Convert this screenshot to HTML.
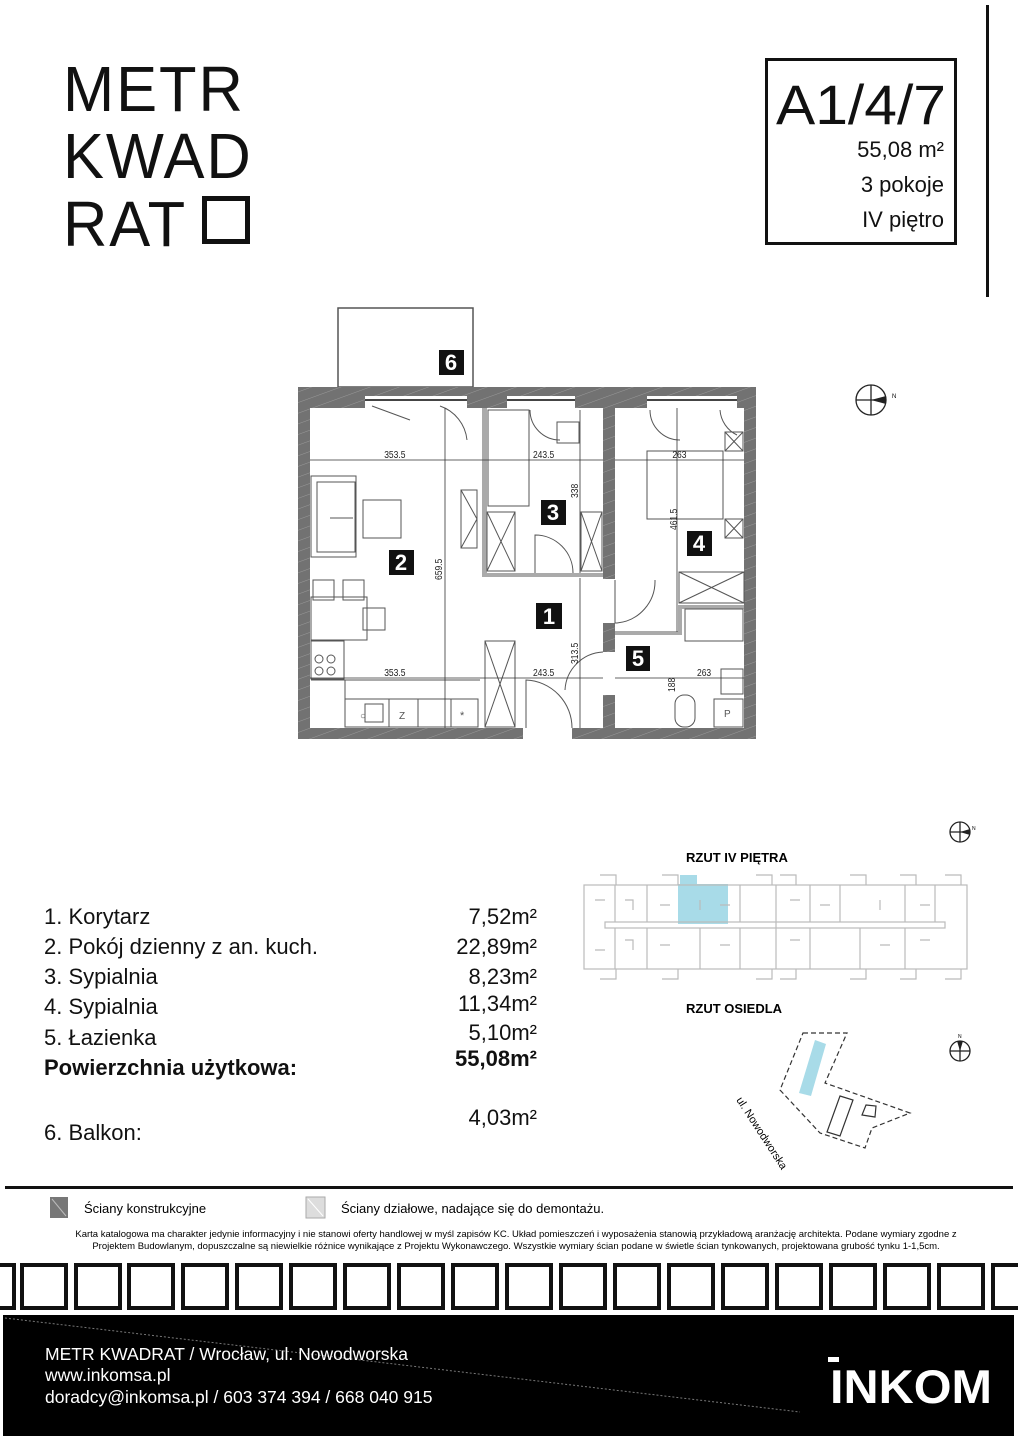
<!DOCTYPE html>
<html><head><meta charset="utf-8"><style>
body{margin:0;width:1018px;height:1440px;background:#fff;position:relative;overflow:hidden;font-family:"Liberation Sans",sans-serif;color:#111}
.a{position:absolute;white-space:nowrap}
.logo{font-size:64px;letter-spacing:2px;line-height:1;font-weight:normal;transform:scaleX(0.96);transform-origin:left}
.li{font-size:22px}
</style></head><body>
<div class="a logo" style="left:63px;top:57px">METR</div>
<div class="a logo" style="left:63px;top:124px">KWAD</div>
<div class="a logo" style="left:63px;top:192px">RAT</div>
<div class="a" style="left:202px;top:196px;width:38px;height:38px;border:5px solid #111"></div>

<div class="a" style="left:765px;top:58px;width:186px;height:181px;border:3px solid #111"></div>
<div class="a" style="left:986px;top:5px;width:3px;height:292px;background:#111"></div>
<div class="a" style="left:776px;top:72px;font-size:56px;transform:scaleX(1.05);transform-origin:left">A1/4/7</div>
<div class="a" style="right:74px;top:137px;font-size:22px">55,08 m²</div>
<div class="a" style="right:74px;top:172px;font-size:22px">3 pokoje</div>
<div class="a" style="right:74px;top:207px;font-size:22px">IV piętro</div>

<svg class="a" style="left:0;top:0" width="1018" height="1440" font-family="Liberation Sans, sans-serif">
<defs><pattern id="h" width="10" height="10" patternUnits="userSpaceOnUse" patternTransform="rotate(70)"><rect width="10" height="10" fill="#727272"/><line x1="0" y1="0" x2="0" y2="10" stroke="#999" stroke-width="1"/></pattern></defs>
<rect x="338" y="308" width="135" height="79" fill="#fff" stroke="#555" stroke-width="1.5"/>
<rect x="298" y="387" width="458" height="352" fill="url(#h)"/>
<rect x="310" y="408" width="293" height="320" fill="#fff"/>
<rect x="310" y="408" width="35" height="291" fill="#fff"/>
<rect x="615" y="408" width="129" height="320" fill="#fff"/>
<rect x="603" y="579" width="12" height="44" fill="#fff"/>
<rect x="603" y="652" width="12" height="43" fill="#fff"/>
<rect x="523" y="728" width="49" height="11" fill="#fff"/>
<rect x="365" y="396" width="102" height="12" fill="#fff"/><line x1="365" y1="400" x2="467" y2="400" stroke="#444" stroke-width="2"/>
<rect x="507" y="396" width="68" height="12" fill="#fff"/><line x1="507" y1="400" x2="575" y2="400" stroke="#444" stroke-width="2"/>
<rect x="647" y="396" width="90" height="12" fill="#fff"/><line x1="647" y1="400" x2="737" y2="400" stroke="#444" stroke-width="2"/>
<g fill="#aaa"><rect x="482" y="408" width="5" height="168"/><rect x="482" y="573" width="121" height="4"/>
<rect x="615" y="631" width="64" height="4"/><rect x="678" y="605" width="4" height="30"/><rect x="678" y="605" width="66" height="4"/></g>
<g fill="none" stroke="#555" stroke-width="1">
<rect x="311" y="476" width="45" height="81"/><rect x="317" y="482" width="38" height="70"/><line x1="330" y1="518" x2="353" y2="518"/>
<rect x="363" y="500" width="38" height="38"/>
<rect x="311" y="597" width="56" height="43"/><rect x="313" y="580" width="21" height="20"/><rect x="343" y="580" width="21" height="20"/><rect x="363" y="608" width="22" height="22"/>
<rect x="311" y="641" width="33" height="38"/><circle cx="319" cy="659" r="4"/><circle cx="331" cy="659" r="4"/><circle cx="319" cy="671" r="4"/><circle cx="331" cy="671" r="4"/>
<line x1="311" y1="680" x2="480" y2="680"/><line x1="345" y1="680" x2="345" y2="699"/>
<rect x="345" y="699" width="133" height="28"/><line x1="389" y1="699" x2="389" y2="727"/><line x1="418" y1="699" x2="418" y2="727"/><line x1="451" y1="699" x2="451" y2="727"/>
<rect x="365" y="704" width="18" height="18"/>
<rect x="461" y="490" width="16" height="58"/><line x1="461" y1="490" x2="477" y2="519"/><line x1="461" y1="548" x2="477" y2="519"/>
<rect x="488" y="410" width="41" height="96"/><rect x="557" y="422" width="22" height="21"/>
<rect x="487" y="512" width="28" height="59"/><line x1="487" y1="512" x2="515" y2="571"/><line x1="515" y1="512" x2="487" y2="571"/>
<rect x="581" y="512" width="21" height="59"/><line x1="581" y1="512" x2="602" y2="571"/><line x1="602" y1="512" x2="581" y2="571"/>
<path d="M535 573 L535 535 A38 38 0 0 1 573 573"/>
<rect x="485" y="641" width="30" height="86"/><line x1="485" y1="641" x2="515" y2="727"/><line x1="515" y1="641" x2="485" y2="727"/>
<path d="M526 728 L526 680 A48 48 0 0 1 572 728"/>
<path d="M615 580 L615 623 L617 623 A42 42 0 0 0 655 580"/>
<path d="M565 690 A40 40 0 0 1 603 652"/>
<rect x="647" y="451" width="76" height="68"/><rect x="725" y="432" width="18" height="19"/><line x1="725" y1="432" x2="743" y2="451"/><line x1="743" y1="432" x2="725" y2="451"/>
<rect x="725" y="519" width="18" height="19"/><line x1="725" y1="519" x2="743" y2="538"/><line x1="743" y1="519" x2="725" y2="538"/>
<rect x="679" y="572" width="65" height="31"/><line x1="679" y1="572" x2="744" y2="603"/><line x1="744" y1="572" x2="679" y2="603"/>
<rect x="685" y="609" width="58" height="32"/><rect x="721" y="669" width="22" height="25"/>
<rect x="675" y="695" width="20" height="32" rx="9"/><rect x="714" y="699" width="29" height="28"/>
<path d="M372 406 L410 420 M440 406 A40 40 0 0 1 467 440 M650 410 A30 30 0 0 0 680 440 M720 410 A30 30 0 0 0 737 435 M530 410 A30 30 0 0 0 560 440"/>
</g>
<text x="360" y="719" font-size="10" fill="#555">○</text><text x="399" y="719" font-size="10" fill="#555">Z</text><text x="460" y="719" font-size="11" fill="#555">*</text><text x="724" y="717" font-size="10" fill="#555">P</text>
<g stroke="#333" stroke-width="0.8"><line x1="310" y1="460" x2="603" y2="460"/><line x1="615" y1="460" x2="744" y2="460"/><line x1="310" y1="678" x2="603" y2="678"/><line x1="615" y1="678" x2="744" y2="678"/>
<line x1="445" y1="408" x2="445" y2="728"/><line x1="580" y1="410" x2="580" y2="573"/><line x1="677" y1="408" x2="677" y2="632"/><line x1="580" y1="578" x2="580" y2="728"/></g>
<g font-size="10" fill="#222" transform="scale(0.85,1)"><text x="452" y="458">353.5</text><text x="627" y="458">243.5</text><text x="791" y="458">263</text><text x="452" y="676">353.5</text><text x="627" y="676">243.5</text><text x="820" y="676">263</text></g>
<g font-size="10" fill="#222"><text transform="translate(442,580) rotate(-90) scale(0.85,1)">659.5</text><text transform="translate(578,498) rotate(-90) scale(0.85,1)">338</text><text transform="translate(677,530) rotate(-90) scale(0.85,1)">461.5</text><text transform="translate(578,664) rotate(-90) scale(0.85,1)">313.5</text><text transform="translate(675,692) rotate(-90) scale(0.85,1)">188</text></g>
<g font-size="22" font-weight="bold" fill="#fff" text-anchor="middle">
<rect x="439" y="350" width="25" height="25" fill="#111"/><text x="451" y="370">6</text>
<rect x="389" y="550" width="25" height="25" fill="#111"/><text x="401" y="570">2</text>
<rect x="541" y="500" width="25" height="25" fill="#111"/><text x="553" y="520">3</text>
<rect x="536" y="603" width="26" height="26" fill="#111"/><text x="549" y="624">1</text>
<rect x="687" y="531" width="25" height="25" fill="#111"/><text x="699" y="551">4</text>
<rect x="626" y="646" width="24" height="25" fill="#111"/><text x="638" y="666">5</text></g>
<g fill="none" stroke="#222" stroke-width="1.3"><circle cx="871" cy="400" r="15"/><line x1="856" y1="400" x2="886" y2="400"/><line x1="871" y1="385" x2="871" y2="415"/>
<circle cx="960" cy="832" r="10"/><line x1="950" y1="832" x2="970" y2="832"/><line x1="960" y1="822" x2="960" y2="842"/>
<circle cx="960" cy="1051" r="10"/><line x1="950" y1="1051" x2="970" y2="1051"/><line x1="960" y1="1041" x2="960" y2="1061"/></g>
<path d="M871 400 L886 396 L886 404Z" fill="#222"/><path d="M960 832 L970 829 L970 835Z" fill="#222"/><path d="M960 1051 L957 1041 L963 1041Z" fill="#222"/>
<text x="892" y="398" font-size="6">N</text><text x="972" y="830" font-size="5">N</text><text x="958" y="1038" font-size="5">N</text>
<text x="686" y="862" font-size="13" font-weight="bold">RZUT IV PIĘTRA</text>
<text x="686" y="1013" font-size="13" font-weight="bold">RZUT OSIEDLA</text>
<rect x="680" y="875" width="17" height="12" fill="#a8dbe8"/><rect x="678" y="884" width="50" height="40" fill="#a8dbe8"/>
<g fill="none" stroke="#bbb" stroke-width="1.2">
<rect x="584" y="885" width="383" height="84"/><line x1="776" y1="885" x2="776" y2="969"/>
<rect x="605" y="922" width="340" height="6"/>
<path d="M600 875h16v10M662 875h16v10M756 875h16v10M780 875h16v10M850 875h16v10M900 875h16v10M945 875h16v10M600 979h16v-10M662 979h16v-10M756 979h16v-10M780 979h16v-10M850 979h16v-10M900 979h16v-10M945 979h16v-10"/>
<path d="M615 885v37M647 885v37M740 885v37M810 885v37M840 885v37M905 885v37M935 885v37M615 928v41M647 928v41M700 928v41M740 928v41M810 928v41M860 928v41M905 928v41"/>
<path d="M595 900h10M595 950h10M625 900h8v10M660 905h10M700 900v10M720 905h10M790 900h10M820 905h10M880 900v10M920 905h10M625 940h8v10M660 945h10M720 945h10M790 940h10M880 945h10M920 940h10"/>
</g>
<g fill="none" stroke="#333" stroke-width="1.2"><path d="M803 1033 L847 1033 L825 1083 L910 1113 L872 1128 L865 1148 L820 1133 L780 1090Z" stroke-dasharray="5 3"/>
<path d="M840 1096 L853 1100 L840 1136 L827 1132Z"/><path d="M866 1105 L876 1106 L875 1117 L862 1115Z"/></g>
<path d="M815 1040 L826 1044 L811 1096 L799 1093Z" fill="#a8dbe8"/>
<text transform="translate(736,1100) rotate(57)" font-size="11">ul. Nowodworska</text>
<rect x="5" y="1186" width="1008" height="3" fill="#111"/>
<rect x="50" y="1197" width="18" height="21" fill="#777"/><line x1="52" y1="1199" x2="66" y2="1216" stroke="#bbb"/>
<rect x="306" y="1197" width="19" height="21" fill="#ddd" stroke="#aaa"/><line x1="308" y1="1199" x2="323" y2="1216" stroke="#fff"/>
<text x="84" y="1213" font-size="13">Ściany konstrukcyjne</text>
<text x="341" y="1213" font-size="13">Ściany działowe, nadające się do demontażu.</text>
<text x="516" y="1237" font-size="9.5" text-anchor="middle">Karta katalogowa ma charakter jedynie informacyjny i nie stanowi oferty handlowej w myśl zapisów KC. Układ pomieszczeń i wyposażenia stanowią przykładową aranżację architekta. Podane wymiary zgodne z</text>
<text x="516" y="1249" font-size="9.5" text-anchor="middle">Projektem Budowlanym, dopuszczalne są niewielkie różnice wynikające z Projektu Wykonawczego. Wszystkie wymiary ścian podane w świetle ścian tynkowanych, projektowana grubość tynku 1-1,5cm.</text>
<g fill="none" stroke="#111" stroke-width="4">
<rect x="-34" y="1265" width="48" height="43"/><rect x="22" y="1265" width="44" height="43"/><rect x="76" y="1265" width="44" height="43"/><rect x="129" y="1265" width="44" height="43"/><rect x="183" y="1265" width="44" height="43"/><rect x="237" y="1265" width="44" height="43"/><rect x="291" y="1265" width="44" height="43"/><rect x="345" y="1265" width="44" height="43"/><rect x="399" y="1265" width="44" height="43"/><rect x="453" y="1265" width="44" height="43"/><rect x="507" y="1265" width="44" height="43"/><rect x="561" y="1265" width="44" height="43"/><rect x="615" y="1265" width="44" height="43"/><rect x="669" y="1265" width="44" height="43"/><rect x="723" y="1265" width="44" height="43"/><rect x="777" y="1265" width="44" height="43"/><rect x="831" y="1265" width="44" height="43"/><rect x="885" y="1265" width="44" height="43"/><rect x="939" y="1265" width="44" height="43"/><rect x="993" y="1265" width="44" height="43"/></g>
<rect x="3" y="1315" width="1011" height="121" fill="#000"/>
<line x1="5" y1="1318" x2="800" y2="1412" stroke="#777" stroke-width="1" stroke-dasharray="2 2"/>
<text x="45" y="1360" font-size="17.5" fill="#fff">METR KWADRAT / Wrocław, ul. Nowodworska</text>
<text x="45" y="1381" font-size="17.5" fill="#fff">www.inkomsa.pl</text>
<text x="45" y="1403" font-size="17.5" fill="#fff">doradcy@inkomsa.pl / 603 374 394 / 668 040 915</text>
<text x="830" y="1403" font-size="47" font-weight="bold" fill="#fff" textLength="162" lengthAdjust="spacingAndGlyphs">INKOM</text>
<rect x="828" y="1357" width="11" height="5" fill="#fff"/>
</svg>

<div class="a li" style="left:44px;top:904px">1. Korytarz</div><div class="a li" style="right:481px;top:904px">7,52m²</div>
<div class="a li" style="left:44px;top:934px">2. Pokój dzienny z an. kuch.</div><div class="a li" style="right:481px;top:934px">22,89m²</div>
<div class="a li" style="left:44px;top:964px">3. Sypialnia</div><div class="a li" style="right:481px;top:964px">8,23m²</div>
<div class="a li" style="left:44px;top:994px">4. Sypialnia</div><div class="a li" style="right:481px;top:991px">11,34m²</div>
<div class="a li" style="left:44px;top:1025px">5. Łazienka</div><div class="a li" style="right:481px;top:1020px">5,10m²</div>
<div class="a li" style="left:44px;top:1055px;font-weight:bold">Powierzchnia użytkowa:</div><div class="a li" style="right:481px;top:1046px;font-weight:bold">55,08m²</div>
<div class="a li" style="left:44px;top:1120px">6. Balkon:</div><div class="a li" style="right:481px;top:1105px">4,03m²</div>
</body></html>
